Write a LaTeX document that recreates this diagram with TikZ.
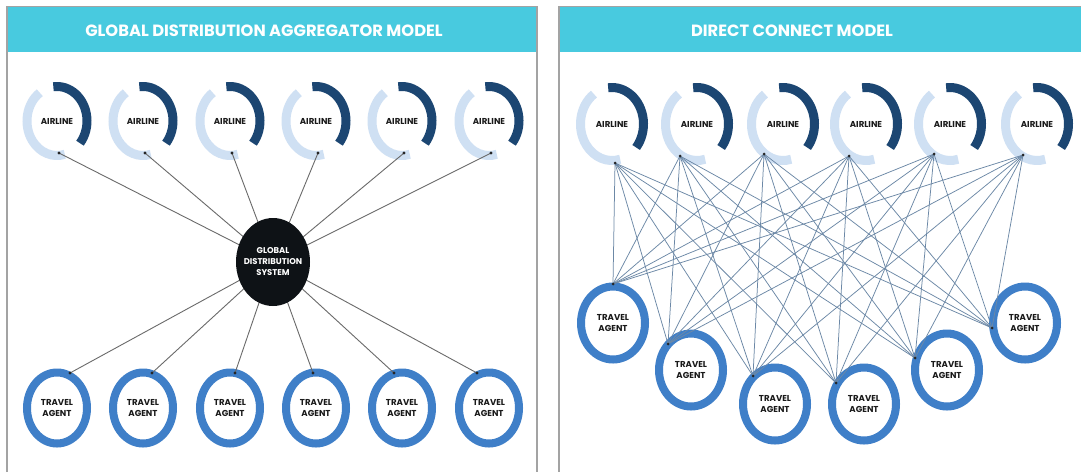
\documentclass[tikz,border=0pt]{standalone}
\usepackage{fontspec}
\usetikzlibrary{shapes.geometric}
\setmainfont{Poppins}
\definecolor{headcyan}{HTML}{48CADF}
\definecolor{panelgray}{HTML}{A3A3A3}
\definecolor{navyarc}{HTML}{1C4672}
\definecolor{palearc}{HTML}{CFE0F3}
\definecolor{agentblue}{HTML}{3F7FC8}
\definecolor{hubblack}{HTML}{0E1216}
\definecolor{labelink}{HTML}{1A1A1A}
\definecolor{meshline}{HTML}{6C88A6}
\definecolor{spokeline}{HTML}{6A6A6A}
\begin{document}
\begin{tikzpicture}[x=1pt,y=1pt,
  paneledge/.style={draw=panelgray,line width=1.4pt},
  headband/.style={fill=headcyan},
  headtitle/.style={text=white,anchor=base,font=\bfseries\fontsize{16.3}{18}\selectfont},
  airtext/.style={text=labelink,inner sep=0pt,font=\bfseries\fontsize{8.6}{10}\selectfont},
  agenttext/.style={text=labelink,inner sep=0pt,align=center,font=\bfseries\fontsize{8.6}{10.6}\selectfont},
  hubtext/.style={ellipse,fill=hubblack,text=white,align=center,inner xsep=-8pt,inner ysep=0pt,
    minimum width=74pt,minimum height=88pt,font=\bfseries\fontsize{8.4}{11}\selectfont},
  darkring/.style={draw=navyarc,line width=9pt},
  palering/.style={draw=palearc,line width=9pt},
  agentring/.style={draw=agentblue,line width=8pt},
  spoke/.style={draw=spokeline,line width=0.9pt},
  mesh/.style={draw=meshline,line width=0.75pt},
  enddot/.style={fill=black!85},
]
\useasboundingbox[fill=white] (0,0) rectangle (1081,-472);

% ---- panel frames and header bands ----
\fill[headband] (7,-7) rectangle (537,-52);
\fill[headband] (559,-7) rectangle (1081,-52);
\draw[paneledge] (7,-472) -- (7,-6.3) -- (537,-6.3) -- (537,-472);
\draw[paneledge] (1081,-6.3) -- (559,-6.3) -- (559,-472);
\node[headtitle] (titleL) at (264,-36.7) {GLOBAL DISTRIBUTION AGGREGATOR MODEL};
\node[headtitle] (titleR) at (792,-36.7) {DIRECT CONNECT MODEL};

% ---- aggregator model: airlines ----
\foreach \i/\x in {1/57,2/143,3/230,4/316,5/402,6/489}{
  \node[airtext] (la\i) at (\x,-121) {AIRLINE};
  \draw[palering] (la\i.center) ++(125:30 and 34.5) arc[start angle=125,end angle=285,x radius=30,y radius=34.5];
  \draw[darkring] (la\i.center) ++(97:30 and 34.5) arc[start angle=97,end angle=-40,x radius=30,y radius=34.5];
  \path (la\i.center) ++(2,-32) coordinate (lad\i);
}
% ---- aggregator model: travel agents ----
\foreach \i/\x/\dx in {1/57/13,2/143/9,3/230/5,4/316/-3,5/402/-8,6/489/-12}{
  \node[agenttext] (lt\i) at (\x,-408) {TRAVEL\\AGENT};
  \draw[agentring] (lt\i.center) ellipse[x radius=30,y radius=35.5];
  \path (lt\i.center) ++(\dx,35) coordinate (ltd\i);
}
% ---- aggregator model: hub and spokes ----
\coordinate (gdsc) at (273,-262);
\foreach \i in {1,...,6}{
  \draw[spoke] (lad\i) -- (gdsc);
  \draw[spoke] (gdsc) -- (ltd\i);
}
\node[hubtext] (gds) at (gdsc) {GLOBAL\\DISTRIBUTION\\SYSTEM};
\foreach \i in {1,...,6}{
  \fill[enddot] (lad\i) circle (1.6);
  \fill[enddot] (ltd\i) circle (1.6);
}

% ---- direct connect model: airlines ----
\foreach \i/\x/\dx/\dy in {1/612/3/-39,2/697/-17/-32,3/783/-19/-30,4/866/-17/-32,5/950/-16/-30,6/1037/-14/-31}{
  \node[airtext] (ra\i) at (\x,-124) {AIRLINE};
  \draw[palering] (ra\i.center) ++(125:31.5 and 36.5) arc[start angle=125,end angle=285,x radius=31.5,y radius=36.5];
  \draw[darkring] (ra\i.center) ++(97:31.5 and 36.5) arc[start angle=97,end angle=-40,x radius=31.5,y radius=36.5];
  \path (ra\i.center) ++(\dx,\dy) coordinate (rad\i);
}
% ---- direct connect model: travel agents ----
\foreach \i/\x/\y/\dx/\dy in {1/613/-323/0/39,2/691/-370/-23/26,3/775/-404/-22/28,4/864/-404/-28/21,5/947/-370/-32/12,6/1025/-323/-33/-5}{
  \node[agenttext] (rt\i) at (\x,\y) {TRAVEL\\AGENT};
  \draw[agentring] (rt\i.center) ellipse[x radius=32,y radius=36.5];
  \path (rt\i.center) ++(\dx,\dy) coordinate (rtd\i);
}
% ---- direct connect model: every airline to every agent ----
\foreach \i in {1,...,6}{
  \foreach \j in {1,...,6}{
    \draw[mesh] (rad\i) -- (rtd\j);
  }
}
\foreach \i in {1,...,6}{
  \fill[enddot] (rad\i) circle (1.5);
  \fill[enddot] (rtd\i) circle (1.5);
}
\end{tikzpicture}
\end{document}
